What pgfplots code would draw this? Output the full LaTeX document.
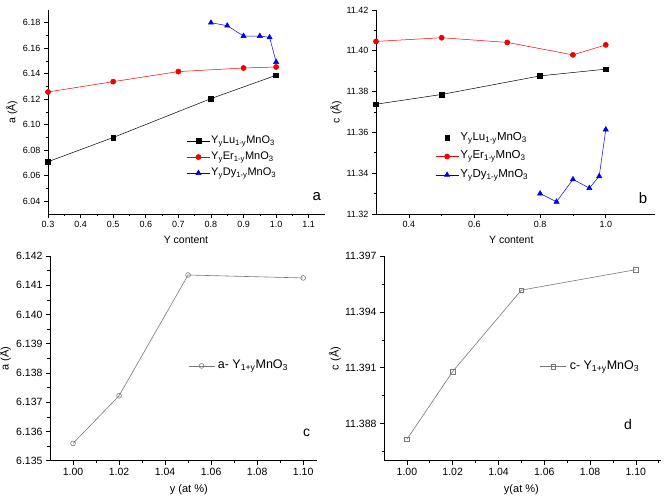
\documentclass[border=0pt]{standalone}
\usepackage{pgfplots}
\pgfplotsset{compat=1.18}
\usepackage{fontspec}
\setmainfont{Liberation Sans}

\definecolor{pred}{RGB}{240,0,0}
\definecolor{pblue}{RGB}{0,0,230}
\definecolor{pgrayline}{RGB}{120,120,120}

\pgfplotsset{
  panel/.style={
    scale only axis,
    axis lines=left,
    axis line style={-, black, line width=0.7pt},
    tick align=outside,
    major tick length=4pt,
    minor tick length=2.5pt,
    tick style={black, line width=0.6pt},
    minor tick num=1,
    scaled ticks=false,
    clip=false,
    /pgf/number format/assume math mode=true,
    legend cell align=left,
  },
  % legend sample: short line with the marker in its middle
  samplelen/.initial=23pt,
  linesample/.style={
    legend image code/.code={
      \draw[##1] (0pt,0pt) -- (\pgfkeysvalueof{/pgfplots/samplelen},0pt);
      \draw[##1, only marks] plot coordinates {(0.5*\pgfkeysvalueof{/pgfplots/samplelen},0pt)};
    }
  },
  % legend sample: the marker alone
  marksample/.style={
    legend image code/.code={
      \draw[##1, only marks] plot coordinates {(0.5*\pgfkeysvalueof{/pgfplots/samplelen},0pt)};
    }
  },
}

\newcommand{\YLu}{Y\textsubscript{y}Lu\textsubscript{1-y}MnO\textsubscript{3}}
\newcommand{\YEr}{Y\textsubscript{y}Er\textsubscript{1-y}MnO\textsubscript{3}}
\newcommand{\YDy}{Y\textsubscript{y}Dy\textsubscript{1-y}MnO\textsubscript{3}}

\begin{document}
\begin{tikzpicture}[x=1pt,y=1pt]
\path[use as bounding box] (0,0) rectangle (666,503);

% ---------------- (a) lattice parameter a vs Y content
\begin{axis}[panel, linesample,
  at={(48pt,289pt)}, anchor=south west,
  width=277pt, height=204pt,
  xmin=0.3, xmax=1.15, ymin=6.03, ymax=6.19,
  xtick={0.3,0.4,0.5,0.6,0.7,0.8,0.9,1.0,1.1},
  ytick={6.04,6.06,6.08,6.10,6.12,6.14,6.16,6.18},
  xticklabel style={font=\fontsize{9}{10}\selectfont, /pgf/number format/.cd, fixed, fixed zerofill, precision=1},
  yticklabel style={font=\fontsize{9}{10}\selectfont, /pgf/number format/.cd, fixed, fixed zerofill, precision=2},
  xlabel={Y content}, ylabel={a (Å)},
  label style={font=\fontsize{10.5}{12}\selectfont},
  xlabel style={at={(axis description cs:0.498,-0.127)}, anchor=center},
  ylabel style={at={(axis description cs:-0.130,0.5)}, anchor=center},
  legend style={at={(axis description cs:0.50,0.279)}, anchor=west, draw=none, fill=none,
    font=\fontsize{11}{12}\selectfont, inner xsep=0pt, inner ysep=0pt, row sep=3pt,
    nodes={inner sep=1pt, text height=8pt, text depth=3pt}},
]
\addplot[black, line width=0.5pt, mark=square*, mark size=2.4pt, mark options={solid}]
  coordinates {(0.3,6.0710) (0.5,6.0900) (0.8,6.1205) (1.0,6.1388)};
\addlegendentry{\YLu}
\addplot[pred, line width=0.5pt, mark=*, mark size=2.6pt]
  coordinates {(0.3,6.1257) (0.5,6.1338) (0.7,6.1417) (0.9,6.1445) (1.0,6.1453)};
\addlegendentry{\YEr}
\addplot[pblue, line width=0.5pt, mark=triangle*, mark size=3pt]
  coordinates {(0.8,6.1800) (0.85,6.1777) (0.9,6.1696) (0.95,6.1696) (0.98,6.1685) (1.0,6.1492)};
\addlegendentry{\YDy}
\node[font=\fontsize{15}{16}\selectfont, anchor=center] at (axis description cs:0.97,0.085) {a};
\end{axis}

% ---------------- (b) lattice parameter c vs Y content
\begin{axis}[panel, linesample,
  at={(376pt,289pt)}, anchor=south west,
  width=279pt, height=204pt,
  xmin=0.3, xmax=1.15, ymin=11.32, ymax=11.42,
  xtick={0.4,0.6,0.8,1.0},
  ytick={11.32,11.34,11.36,11.38,11.40,11.42},
  xticklabel style={font=\fontsize{9}{10}\selectfont, /pgf/number format/.cd, fixed, fixed zerofill, precision=1},
  yticklabel style={font=\fontsize{9}{10}\selectfont, /pgf/number format/.cd, fixed, fixed zerofill, precision=2},
  xlabel={Y content}, ylabel={c (Å)},
  label style={font=\fontsize{10.5}{12}\selectfont},
  xlabel style={at={(axis description cs:0.485,-0.127)}, anchor=center},
  ylabel style={at={(axis description cs:-0.143,0.5)}, anchor=center},
  legend style={at={(axis description cs:0.212,0.282)}, anchor=west, draw=none, fill=none,
    font=\fontsize{11.5}{13}\selectfont, inner xsep=0pt, inner ysep=0pt, row sep=4.5pt,
    nodes={inner sep=1.5pt, text height=8pt, text depth=3pt}},
]
\addplot[black, line width=0.5pt, mark=square*, mark size=2.4pt, forget plot]
  coordinates {(0.3,11.3738) (0.5,11.3786) (0.8,11.3877) (1.0,11.3910)};
\addlegendimage{black, mark=square*, mark size=2.4pt, marksample}
\addlegendentry{\YLu}
\addplot[pred, line width=0.5pt, mark=*, mark size=2.6pt]
  coordinates {(0.3,11.4046) (0.5,11.4064) (0.7,11.4041) (0.9,11.3980) (1.0,11.4029)};
\addlegendentry{\YEr}
\addplot[pblue, line width=0.5pt, mark=triangle*, mark size=3pt]
  coordinates {(0.8,11.3300) (0.85,11.3260) (0.9,11.3370) (0.95,11.3327) (0.98,11.3385) (1.0,11.3614)};
\addlegendentry{\YDy}
\node[font=\fontsize{15}{16}\selectfont, anchor=center] at (axis description cs:0.957,0.078) {b};
\end{axis}

% ---------------- (c) a of Y(1+y)MnO3
\begin{axis}[panel, linesample, samplelen=26pt,
  at={(50pt,42.3pt)}, anchor=south west,
  width=267pt, height=204.7pt,
  xmin=0.99, xmax=1.106, ymin=6.135, ymax=6.142,
  xtick={1.00,1.02,1.04,1.06,1.08,1.10},
  ytick={6.135,6.136,6.137,6.138,6.139,6.140,6.141,6.142},
  xticklabel style={font=\fontsize{10.5}{12}\selectfont, /pgf/number format/.cd, fixed, fixed zerofill, precision=2},
  yticklabel style={font=\fontsize{10.5}{12}\selectfont, /pgf/number format/.cd, fixed, fixed zerofill, precision=3},
  xlabel={y (at \%)}, ylabel={a (Å)},
  label style={font=\fontsize{11}{12}\selectfont},
  xlabel style={at={(axis description cs:0.52,-0.143)}, anchor=center},
  ylabel style={at={(axis description cs:-0.169,0.5)}, anchor=center},
  legend style={at={(axis description cs:0.517,0.463)}, anchor=west, draw=none, fill=none,
    font=\fontsize{12.5}{14}\selectfont, inner xsep=0pt, inner ysep=0pt,
    nodes={inner sep=3pt, text height=9pt, text depth=3pt}},
]
\addplot[pgrayline, line width=0.6pt, mark=o, mark size=2.4pt, mark options={fill=white}]
  coordinates {(1.00,6.13559) (1.02,6.13722) (1.05,6.14135) (1.10,6.14125)};
\addlegendentry{a- Y\textsubscript{1+y}MnO\textsubscript{3}}
\node[font=\fontsize{14}{15}\selectfont, anchor=center] at (axis description cs:0.961,0.137) {c};
\end{axis}

% ---------------- (d) c of Y(1+y)MnO3
\begin{axis}[panel, linesample, samplelen=26pt,
  at={(384pt,42.3pt)}, anchor=south west,
  width=277pt, height=204.4pt,
  xmin=0.99, xmax=1.111, ymin=11.386, ymax=11.397,
  xtick={1.00,1.02,1.04,1.06,1.08,1.10},
  ytick={11.388,11.391,11.394,11.397},
  xticklabel style={font=\fontsize{10.5}{12}\selectfont, /pgf/number format/.cd, fixed, fixed zerofill, precision=2},
  yticklabel style={font=\fontsize{10.5}{12}\selectfont, /pgf/number format/.cd, fixed, fixed zerofill, precision=3},
  extra y ticks={11.3865,11.3895,11.3925,11.3955},
  extra y tick labels={},
  extra y tick style={major tick length=2.5pt},
  minor tick num=0,
  minor xtick={1.01,1.03,1.05,1.07,1.09,1.11},
  xlabel={y(at \%)}, ylabel={c (Å)},
  label style={font=\fontsize{11}{12}\selectfont},
  xlabel style={at={(axis description cs:0.496,-0.143)}, anchor=center},
  ylabel style={at={(axis description cs:-0.177,0.5)}, anchor=center},
  legend style={at={(axis description cs:0.563,0.46)}, anchor=west, draw=none, fill=none,
    font=\fontsize{12.5}{14}\selectfont, inner xsep=0pt, inner ysep=0pt,
    nodes={inner sep=3pt, text height=9pt, text depth=3pt}},
]
\addplot[pgrayline, line width=0.6pt, mark=square, mark size=2.3pt, mark options={fill=white}]
  coordinates {(1.00,11.38715) (1.02,11.39080) (1.05,11.39518) (1.10,11.39628)};
\addlegendentry{c- Y\textsubscript{1+y}MnO\textsubscript{3}}
\node[font=\fontsize{14}{15}\selectfont, anchor=center] at (axis description cs:0.881,0.175) {d};
\end{axis}
\end{tikzpicture}
\end{document}
